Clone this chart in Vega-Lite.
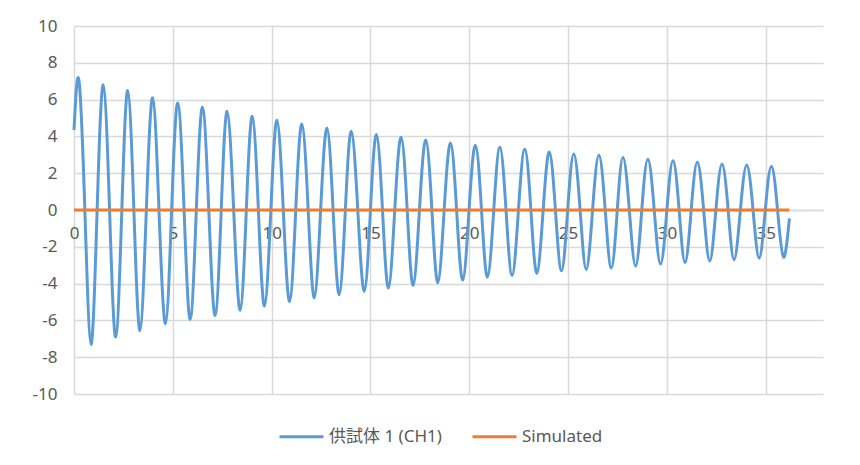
{
  "$schema": "https://vega.github.io/schema/vega-lite/v6.json",
  "width": 749,
  "height": 368,
  "autosize": "none",
  "padding": {"left": 74, "top": 26, "right": 37, "bottom": 71},
  "background": "white",
  "config": {
    "view": {"stroke": null},
    "font": "'Noto Sans', 'Noto Sans CJK JP', sans-serif"
  },
  "datasets": {
    "ch1": [
      {"t": 0, "v": 4.35}, {"t": 0.25, "v": 7.05}, {"t": 0.55, "v": 0}, {"t": 0.86, "v": -7.3},
      {"t": 1.17, "v": 0}, {"t": 1.48, "v": 6.8}, {"t": 1.8, "v": 0}, {"t": 2.11, "v": -6.9},
      {"t": 2.42, "v": 0}, {"t": 2.72, "v": 6.5}, {"t": 3.03, "v": 0}, {"t": 3.34, "v": -6.55},
      {"t": 3.66, "v": 0}, {"t": 3.98, "v": 6.1}, {"t": 4.3, "v": 0}, {"t": 4.63, "v": -6.18},
      {"t": 4.94, "v": 0}, {"t": 5.25, "v": 5.82}, {"t": 5.57, "v": 0}, {"t": 5.88, "v": -5.94},
      {"t": 6.19, "v": 0}, {"t": 6.5, "v": 5.58}, {"t": 6.82, "v": 0}, {"t": 7.14, "v": -5.73},
      {"t": 7.45, "v": 0}, {"t": 7.75, "v": 5.36}, {"t": 8.08, "v": 0}, {"t": 8.41, "v": -5.45},
      {"t": 8.72, "v": 0}, {"t": 9.02, "v": 5.09}, {"t": 9.33, "v": 0}, {"t": 9.64, "v": -5.22},
      {"t": 9.96, "v": 0}, {"t": 10.27, "v": 4.88}, {"t": 10.59, "v": 0}, {"t": 10.91, "v": -4.98},
      {"t": 11.22, "v": 0}, {"t": 11.53, "v": 4.68}, {"t": 11.85, "v": 0}, {"t": 12.16, "v": -4.77},
      {"t": 12.48, "v": 0}, {"t": 12.8, "v": 4.46}, {"t": 13.11, "v": 0}, {"t": 13.42, "v": -4.6},
      {"t": 13.73, "v": 0}, {"t": 14.03, "v": 4.28}, {"t": 14.36, "v": 0}, {"t": 14.69, "v": -4.42},
      {"t": 15.0, "v": 0}, {"t": 15.3, "v": 4.1}, {"t": 15.61, "v": 0}, {"t": 15.91, "v": -4.24},
      {"t": 16.23, "v": 0}, {"t": 16.55, "v": 3.95}, {"t": 16.86, "v": 0}, {"t": 17.16, "v": -4.1},
      {"t": 17.48, "v": 0}, {"t": 17.8, "v": 3.81}, {"t": 18.11, "v": 0}, {"t": 18.41, "v": -3.95},
      {"t": 18.73, "v": 0}, {"t": 19.05, "v": 3.64}, {"t": 19.36, "v": 0}, {"t": 19.67, "v": -3.81},
      {"t": 19.99, "v": 0}, {"t": 20.31, "v": 3.52}, {"t": 20.62, "v": 0}, {"t": 20.92, "v": -3.65},
      {"t": 21.24, "v": 0}, {"t": 21.55, "v": 3.41}, {"t": 21.86, "v": 0}, {"t": 22.17, "v": -3.55},
      {"t": 22.49, "v": 0}, {"t": 22.81, "v": 3.3}, {"t": 23.12, "v": 0}, {"t": 23.42, "v": -3.44},
      {"t": 23.74, "v": 0}, {"t": 24.05, "v": 3.15}, {"t": 24.36, "v": 0}, {"t": 24.67, "v": -3.3},
      {"t": 24.98, "v": 0}, {"t": 25.29, "v": 3.05}, {"t": 25.61, "v": 0}, {"t": 25.92, "v": -3.23},
      {"t": 26.24, "v": 0}, {"t": 26.56, "v": 2.97}, {"t": 26.88, "v": 0}, {"t": 27.19, "v": -3.15},
      {"t": 27.49, "v": 0}, {"t": 27.78, "v": 2.86}, {"t": 28.1, "v": 0}, {"t": 28.42, "v": -3.05},
      {"t": 28.73, "v": 0}, {"t": 29.04, "v": 2.76}, {"t": 29.36, "v": 0}, {"t": 29.68, "v": -2.94},
      {"t": 30.0, "v": 0}, {"t": 30.31, "v": 2.68}, {"t": 30.62, "v": 0}, {"t": 30.92, "v": -2.86},
      {"t": 31.23, "v": 0}, {"t": 31.54, "v": 2.59}, {"t": 31.86, "v": 0}, {"t": 32.17, "v": -2.77},
      {"t": 32.48, "v": 0}, {"t": 32.79, "v": 2.5}, {"t": 33.1, "v": 0}, {"t": 33.4, "v": -2.7},
      {"t": 33.72, "v": 0}, {"t": 34.04, "v": 2.45}, {"t": 34.36, "v": 0}, {"t": 34.67, "v": -2.61},
      {"t": 34.98, "v": 0}, {"t": 35.29, "v": 2.38}, {"t": 35.6, "v": 0}, {"t": 35.9, "v": -2.56},
      {"t": 36.2, "v": -0.45}
    ],
    "sim": [
      {"t": 0, "v": 0}, {"t": 36.2, "v": 0}
    ]
  },
  "encoding": {
    "x": {
      "field": "t",
      "type": "quantitative",
      "scale": {"domain": [0, 37.9], "nice": false, "zero": false},
      "axis": {
        "title": null,
        "values": [0, 5, 10, 15, 20, 25, 30, 35],
        "offset": -184,
        "grid": true,
        "gridColor": "#D9D9D9",
        "gridWidth": 1.5,
        "domain": true,
        "domainColor": "#D9D9D9",
        "domainWidth": 1.5,
        "ticks": false,
        "tickSize": 0,
        "labelPadding": 15,
        "labelFontSize": 17,
        "labelColor": "#595959",
        "labelFlush": false
      }
    },
    "y": {
      "field": "v",
      "type": "quantitative",
      "scale": {"domain": [-10, 10], "nice": false},
      "axis": {
        "title": null,
        "values": [-10, -8, -6, -4, -2, 0, 2, 4, 6, 8, 10],
        "grid": true,
        "gridColor": "#D9D9D9",
        "gridWidth": 1.5,
        "domain": false,
        "ticks": false,
        "tickSize": 0,
        "labelPadding": 17,
        "labelFontSize": 17,
        "labelColor": "#595959",
        "labelExpr": "datum.value < 0 ? '-' + abs(datum.value) : '' + datum.value"
      }
    }
  },
  "layer": [
    {
      "data": {"name": "ch1"},
      "mark": {"type": "line", "interpolate": "natural", "strokeWidth": 3},
      "encoding": {
        "color": {
          "datum": "供試体 1 (CH1)",
          "type": "nominal",
          "scale": {"domain": ["供試体 1 (CH1)", "Simulated"], "range": ["#5B9BD5", "#ED7D31"]},
          "legend": {
            "title": null,
            "orient": "none",
            "direction": "horizontal",
            "legendX": 204,
            "legendY": 387,
            "padding": 0,
            "symbolType": "stroke",
            "symbolSize": 1936,
            "symbolStrokeWidth": 3,
            "labelFontSize": 17,
            "labelColor": "#595959",
            "labelLimit": 300,
            "labelOffset": 4,
            "columnPadding": 24
          }
        }
      }
    },
    {
      "data": {"name": "sim"},
      "mark": {"type": "line", "strokeWidth": 3},
      "encoding": {
        "color": {"datum": "Simulated", "type": "nominal"}
      }
    }
  ]
}
